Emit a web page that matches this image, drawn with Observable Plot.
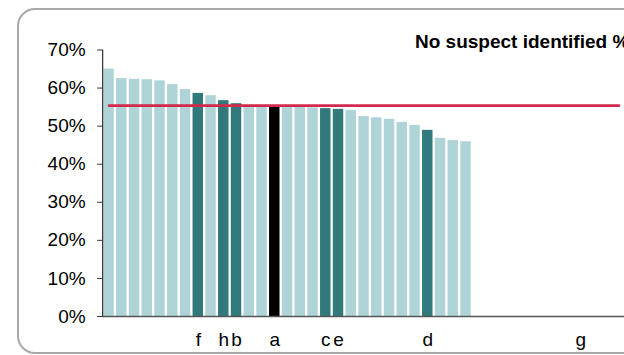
<!DOCTYPE html>
<html>
<head>
<meta charset="utf-8">
<script src="https://cdn.jsdelivr.net/npm/d3@7"></script>
<script src="https://cdn.jsdelivr.net/npm/@observablehq/plot@0.6"></script>
<style>
  html, body { margin: 0; padding: 0; background: #fff; }
  body { width: 624px; height: 355px; overflow: hidden; position: relative; font-family: "Liberation Sans", Arial, sans-serif; }
  #frame { position: absolute; left: 17px; top: 8px; width: 720px; height: 342px; border: 2px solid #a8a8a8; border-radius: 18px; }
  #title { position: absolute; left: 415px; top: 31px; font-weight: bold; font-size: 19px; white-space: nowrap; color: #000; }
  #chart { position: absolute; left: 0; top: 0; width: 660px; height: 355px; }
  #chart svg { max-width: none !important; }
</style>
</head>
<body>
<div id="frame"></div>
<div id="chart"></div>
<div id="title">No suspect identified %</div>
<script>
// Bar values (%), sorted descending
const values = [65.0, 62.5, 62.3, 62.2, 61.9, 60.9, 59.6, 58.6, 58.0, 56.7,
                55.9, 55.3, 55.2, 55.2, 55.0, 54.9, 54.8, 54.6, 54.4, 54.1,
                52.5, 52.2, 51.8, 51.0, 50.2, 48.9, 46.8, 46.2, 45.9];
// Category slots along the x axis (bars plus empty slots to the right)
const slotCount = 42;
// Labelled categories
const tickIdx = [7, 9, 10, 13, 17, 18, 25, 37];
const tickLabels = ["f", "h", "b", "a", "c", "e", "d", "g"];
// Highlighted bars
const darkIdx = [7, 9, 10, 17, 18, 25];
const blackIdx = [13];
// Reference line value and its extent (category slots)
const average = 55.4;
const lineSlots = [0, 40];
const yTicks = [0, 10, 20, 30, 40, 50, 60, 70];

const bars = values.map((v, i) => ({
  i, v,
  kind: blackIdx.includes(i) ? "black" : darkIdx.includes(i) ? "dark" : "light"
}));
const labelOf = new Map(tickIdx.map((t, k) => [t, tickLabels[k]]));

const chart = Plot.plot({
  width: 660,
  height: 355,
  marginLeft: 102.15,
  marginRight: 22.35,
  marginTop: 49.5,
  marginBottom: 39,
  style: {fontFamily: '"Liberation Sans", Arial, sans-serif', fontSize: "19px", color: "#000", background: "transparent", overflow: "visible", maxWidth: "none"},
  x: {type: "band", domain: d3.range(slotCount), paddingInner: 0.18, paddingOuter: 0.09},
  y: {domain: [0, 70]},
  color: {domain: ["light", "dark", "black"], range: ["#aed4d7", "#31797a", "#000000"]},
  marks: [
    Plot.barY(bars, {x: "i", y: "v", fill: "kind"}),
    Plot.line(lineSlots, {x: d => d, y: () => average, stroke: "#d2294d", strokeWidth: 2.6}),
    Plot.ruleY([0], {stroke: "#555", strokeWidth: 1.5}),
    Plot.frame({anchor: "left", stroke: "#333", strokeWidth: 1.2}),
    Plot.axisY({ticks: yTicks, tickFormat: d => d + "%", tickSize: 5, tickPadding: 12, stroke: "#333", label: null, fill: "#000"}),
    Plot.axisX({ticks: tickIdx, tickFormat: i => labelOf.get(i), tickSize: 0, tickPadding: 16, label: null, fill: "#000"})
  ]
});
document.getElementById("chart").appendChild(chart);
</script>
</body>
</html>
